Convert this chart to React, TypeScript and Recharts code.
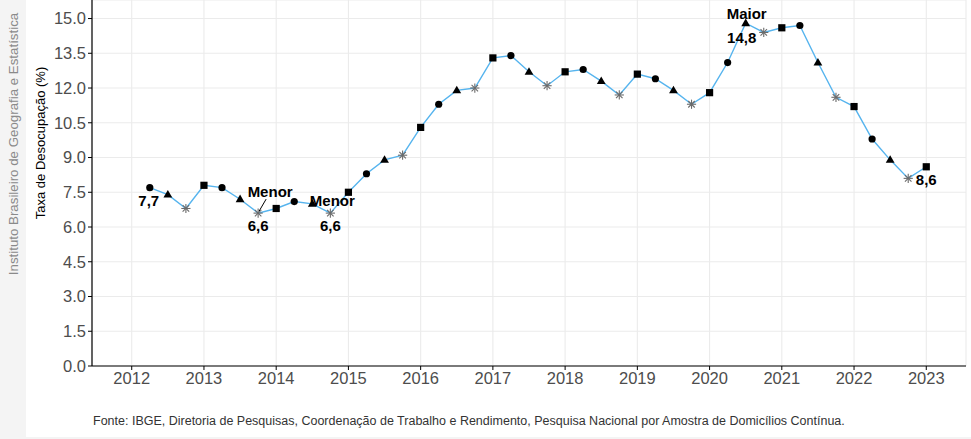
import React from "react";
import {
  LineChart,
  Line,
  XAxis,
  YAxis,
  CartesianGrid,
} from "recharts";

// trimestres (ano + fração), 1º tri plotado em .25
const tempo = [
  2012.25, 2012.5, 2012.75, 2013.0,
  2013.25, 2013.5, 2013.75, 2014.0,
  2014.25, 2014.5, 2014.75, 2015.0,
  2015.25, 2015.5, 2015.75, 2016.0,
  2016.25, 2016.5, 2016.75, 2017.0,
  2017.25, 2017.5, 2017.75, 2018.0,
  2018.25, 2018.5, 2018.75, 2019.0,
  2019.25, 2019.5, 2019.75, 2020.0,
  2020.25, 2020.5, 2020.75, 2021.0,
  2021.25, 2021.5, 2021.75, 2022.0,
  2022.25, 2022.5, 2022.75, 2023.0,
];

const taxa = [
  7.7, 7.4, 6.8, 7.8,
  7.7, 7.2, 6.6, 6.8,
  7.1, 7.0, 6.6, 7.5,
  8.3, 8.9, 9.1, 10.3,
  11.3, 11.9, 12.0, 13.3,
  13.4, 12.7, 12.1, 12.7,
  12.8, 12.3, 11.7, 12.6,
  12.4, 11.9, 11.3, 11.8,
  13.1, 14.8, 14.4, 14.6,
  14.7, 13.1, 11.6, 11.2,
  9.8, 8.9, 8.1, 8.6,
];

const anos = [2012, 2013, 2014, 2015, 2016, 2017, 2018, 2019, 2020, 2021, 2022, 2023];
const yTicks = [0, 1.5, 3, 4.5, 6, 7.5, 9, 10.5, 12, 13.5, 15];

// rótulos de destaque: índice do ponto e textos
const destaques: Record<number, { valor: string; titulo?: string }> = {
  0: { valor: "7,7" },
  6: { valor: "6,6", titulo: "Menor" },
  10: { valor: "6,6", titulo: "Menor" },
  33: { valor: "14,8", titulo: "Maior" },
  43: { valor: "8,6" },
};

const data = tempo.map((t, i) => ({ t, taxa: taxa[i] }));

const LINE = "#56B4EE";
const FONT = "'Liberation Sans', Arial, sans-serif";

function Marker(props: any) {
  const { cx, cy, index } = props;
  if (cx == null || cy == null) return null;
  const q = index % 4;
  if (q === 0) return <circle cx={cx} cy={cy} r={3.6} fill="#000" />;
  if (q === 1)
    return (
      <path
        d={`M${cx},${cy - 4.6} L${cx + 4.4},${cy + 3} L${cx - 4.4},${cy + 3} Z`}
        fill="#000"
      />
    );
  if (q === 3)
    return <rect x={cx - 3.6} y={cy - 3.6} width={7.2} height={7.2} fill="#000" />;
  const r = 4.6;
  const d = r * 0.707;
  return (
    <g stroke="#6b6b6b" strokeWidth={1.1}>
      <line x1={cx - r} y1={cy} x2={cx + r} y2={cy} />
      <line x1={cx} y1={cy - r} x2={cx} y2={cy + r} />
      <line x1={cx - d} y1={cy - d} x2={cx + d} y2={cy + d} />
      <line x1={cx - d} y1={cy + d} x2={cx + d} y2={cy - d} />
    </g>
  );
}

function Destaque(props: any) {
  const { x, y, index } = props;
  const a = destaques[index];
  if (!a || x == null || y == null) return null;
  const txt = {
    fontFamily: FONT,
    fontWeight: 700,
    fontSize: 15,
    fill: "#000",
    textAnchor: "middle" as const,
    dominantBaseline: "central" as const,
  };
  if (index === 0)
    return <text x={x - 1} y={y + 13} {...txt}>{a.valor}</text>;
  if (index === 6)
    return (
      <g>
        <text x={x} y={y + 12} {...txt}>{a.valor}</text>
        <text x={x + 12} y={y - 22} {...txt}>{a.titulo}</text>
        <line x1={x + 8} y1={y - 14} x2={x + 1} y2={y - 2} stroke="#000" strokeWidth={1} />
      </g>
    );
  if (index === 10)
    return (
      <g>
        <text x={x} y={y + 12} {...txt}>{a.valor}</text>
        <text x={x + 2} y={y - 13} {...txt}>{a.titulo}</text>
      </g>
    );
  if (index === 33)
    return (
      <g>
        <text x={x + 1} y={y - 10} {...txt}>{a.titulo}</text>
        <text x={x - 4} y={y + 14} {...txt}>{a.valor}</text>
      </g>
    );
  return <text x={x} y={y + 13} {...txt}>{a.valor}</text>;
}

export default function App() {
  return (
    <div
      style={{
        position: "absolute",
        left: 0,
        top: 0,
        width: 971,
        height: 439,
        background: "#f4f4f4",
        overflow: "hidden",
      }}
    >
      <div
        style={{
          position: "absolute",
          left: 26,
          top: 0,
          width: 945,
          height: 437,
          background: "#fff",
        }}
      />
      <div style={{ position: "absolute", left: 0, top: 0 }}>
        <LineChart
          width={971}
          height={439}
          data={data}
          margin={{ top: 0, right: 5, left: 32, bottom: 43 }}
        >
          <CartesianGrid stroke="#ebebeb" strokeWidth={1.1} />
          <XAxis
            dataKey="t"
            type="number"
            domain={[2011.45, 2023.55]}
            ticks={anos}
            allowDataOverflow
            axisLine={{ stroke: "#000", strokeWidth: 1.2 }}
            tickLine={{ stroke: "#000" }}
            tickSize={4}
            tickMargin={2}
            height={30}
            tick={{ fill: "#4d4d4d", fontSize: 16.5, fontFamily: FONT }}
          />
          <YAxis
            type="number"
            domain={[0, 15.8]}
            ticks={yTicks}
            allowDataOverflow
            axisLine={{ stroke: "#000", strokeWidth: 1.2 }}
            tickLine={{ stroke: "#000" }}
            tickSize={4}
            tickMargin={2}
            width={60}
            tick={{ fill: "#4d4d4d", fontSize: 16.5, fontFamily: FONT }}
            tickFormatter={(v: number) => v.toFixed(1)}
          />
          <Line
            type="linear"
            dataKey="taxa"
            stroke={LINE}
            strokeWidth={1.4}
            dot={(p: any) => <Marker key={`m-${p.index}`} {...p} />}
            activeDot={false}
            label={(p: any) => <Destaque key={`l-${p.index}`} {...p} />}
            isAnimationActive={false}
          />
        </LineChart>
      </div>
      <svg
        width={971}
        height={439}
        style={{ position: "absolute", left: 0, top: 0, pointerEvents: "none" }}
      >
        <text
          transform="translate(18,144) rotate(-90)"
          textAnchor="middle"
          fontFamily={FONT}
          fontSize={13.3}
          fill="#8a8a8a"
        >
          Instituto Brasileiro de Geografia e Estatística
        </text>
        <text
          transform="translate(45,143) rotate(-90)"
          textAnchor="middle"
          fontFamily={FONT}
          fontSize={13}
          fill="#000"
        >
          Taxa de Desocupação (%)
        </text>
        <text x={93} y={425} fontFamily={FONT} fontSize={12.5} fill="#333">
          Fonte: IBGE, Diretoria de Pesquisas, Coordenação de Trabalho e Rendimento, Pesquisa Nacional por Amostra de Domicílios Contínua.
        </text>
      </svg>
    </div>
  );
}
